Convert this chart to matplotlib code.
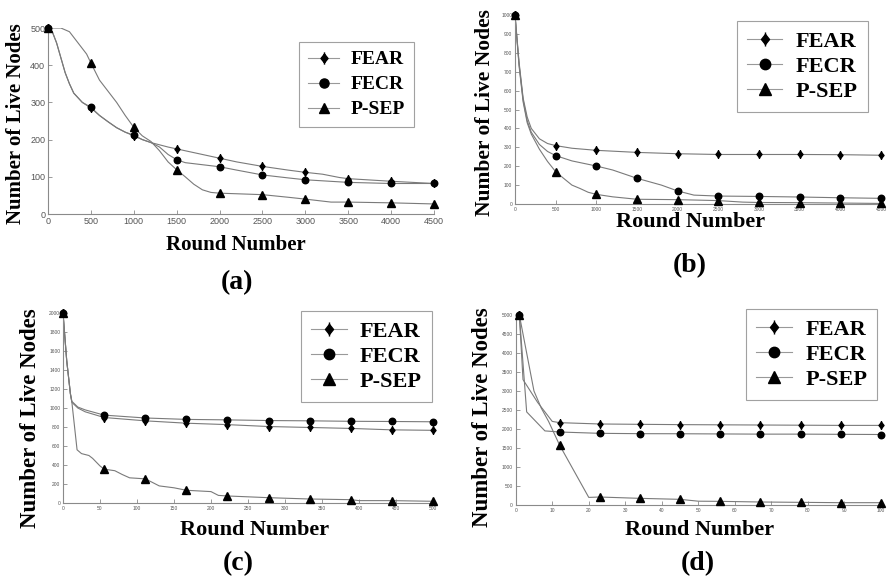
import matplotlib
matplotlib.use("Agg")
import matplotlib.pyplot as plt
from matplotlib.lines import Line2D
from matplotlib.path import Path

plt.rcParams['font.family'] = ['Liberation Serif', 'DejaVu Serif']

# ---------------- (a) 500 nodes ----------------
a_mark_x = [0, 500, 1000, 1500, 2000, 2500, 3000, 3500, 4000, 4500]
a_fear_mark = [500, 285, 210, 175, 150, 128, 112, 95, 88, 82]
a_fecr_mark = [500, 287, 212, 146, 127, 105, 92, 85, 82, 82]
a_psep_mark = [500, 406, 233, 119, 56, 52, 40, 32, 30, 27]

a_fear_x = [0, 50, 100, 150, 200, 250, 300, 400, 500, 600, 700, 800, 900, 1000, 1100, 1200,
            1300, 1400, 1500, 1700, 2000, 2200, 2500, 2800, 3000, 3200, 3400, 3500, 4000, 4500]
a_fear_y = [500, 490, 460, 420, 380, 350, 325, 300, 285, 265, 248, 232, 220, 210, 200, 192,
            186, 180, 175, 165, 150, 140, 128, 118, 112, 107, 98, 95, 88, 82]
a_fecr_x = [0, 50, 100, 150, 200, 250, 300, 400, 500, 600, 700, 800, 900, 1000, 1100, 1200,
            1300, 1400, 1500, 1600, 2000, 2200, 2500, 2800, 3000, 3500, 4000, 4500]
a_fecr_y = [500, 490, 460, 420, 380, 350, 325, 300, 287, 265, 248, 232, 220, 212, 200, 192,
            180, 160, 146, 138, 127, 118, 105, 97, 92, 85, 82, 82]
a_psep_x = [0, 150, 250, 350, 450, 500, 600, 700, 800, 900, 1000, 1100, 1200, 1300, 1400,
            1500, 1600, 1700, 1800, 1900, 2000, 2500, 2800, 3000, 3300, 3500, 4000, 4500]
a_psep_y = [500, 500, 490, 460, 430, 406, 360, 330, 300, 265, 233, 210, 195, 170, 140,
            119, 100, 80, 65, 58, 56, 52, 45, 40, 32, 32, 30, 27]

# ---------------- (b) 1000 nodes ----------------
b_mark_x = [0, 500, 1000, 1500, 2000, 2500, 3000, 3500, 4000, 4500]
b_fear_mark = [1000, 309, 284, 273, 266, 262, 262, 262, 261, 258]
b_fecr_mark = [1000, 256, 201, 136, 69, 42, 40, 37, 33, 30]
b_psep_mark = [1000, 171, 51, 25, 23, 18, 8, 7, 5, 3]

b_fear_x = [0, 50, 100, 150, 200, 300, 400, 500, 700, 1000, 1500, 2000, 2500, 3000, 3500, 4000, 4500]
b_fear_y = [1000, 750, 560, 460, 400, 345, 320, 309, 295, 284, 273, 266, 262, 262, 262, 261, 258]
b_fecr_x = [0, 50, 100, 150, 200, 300, 400, 500, 700, 1000, 1200, 1500, 1800, 2000, 2200,
            2500, 3000, 3500, 4000, 4500]
b_fecr_y = [1000, 740, 550, 440, 380, 315, 278, 256, 228, 201, 180, 136, 100, 69, 47,
            42, 40, 37, 33, 30]
b_psep_x = [0, 50, 100, 150, 200, 300, 400, 500, 600, 700, 800, 900, 1000, 1200, 1500,
            2000, 2500, 2800, 3000, 3500, 4000, 4500]
b_psep_y = [1000, 730, 540, 430, 370, 290, 225, 171, 135, 100, 82, 62, 51, 38, 25,
            23, 18, 10, 8, 7, 5, 3]

# ---------------- (c) 2000 nodes ----------------
c_mark_x = [0, 55.6, 111.1, 166.7, 222.2, 277.8, 333.3, 388.9, 444.4, 500]
c_fear_mark = [2000, 900, 865, 840, 825, 805, 795, 785, 770, 765]
c_fecr_mark = [2000, 925, 895, 880, 875, 868, 865, 860, 858, 855]
c_psep_mark = [2000, 356, 254, 134, 74, 56, 42, 35, 25, 18]

c_fear_x = [0, 5, 10, 12, 20, 30, 55.6, 111.1, 166.7, 222.2, 277.8, 333.3, 388.9, 444.4, 500]
c_fear_y = [2000, 1500, 1150, 1060, 1000, 960, 900, 865, 840, 825, 805, 795, 785, 770, 765]
c_fecr_x = [0, 5, 10, 12, 20, 30, 55.6, 111.1, 166.7, 222.2, 277.8, 333.3, 388.9, 444.4, 500]
c_fecr_y = [2000, 1500, 1150, 1070, 1010, 980, 925, 895, 880, 875, 868, 865, 860, 858, 855]
c_psep_x = [0, 5, 10, 12, 19, 25, 35, 40, 50, 55.6, 70, 80, 90, 100, 111.1, 120, 130, 150,
            166.7, 200, 210, 222.2, 277.8, 333.3, 388.9, 400, 444.4, 500]
c_psep_y = [2000, 1500, 1150, 1060, 560, 520, 500, 470, 390, 356, 340, 300, 265, 260, 254, 220,
            180, 160, 134, 120, 80, 74, 56, 42, 35, 25, 25, 18]

# ---------------- (d) 5000 nodes ----------------
d_mark_x = [1, 12, 23, 34, 45, 56, 67, 78, 89, 100]
d_fear_mark = [5000, 2167, 2132, 2123, 2115, 2110, 2105, 2100, 2095, 2095]
d_fecr_mark = [5000, 1921, 1886, 1877, 1875, 1870, 1865, 1865, 1860, 1855]
d_psep_mark = [5000, 1579, 219, 175, 149, 96, 79, 70, 61, 61]

d_fear_x = [1, 2, 6, 10, 12, 23, 34, 45, 56, 67, 78, 89, 100]
d_fear_y = [5000, 3300, 2700, 2200, 2167, 2132, 2123, 2115, 2110, 2105, 2100, 2095, 2095]
d_fecr_x = [1, 3, 8, 12, 23, 34, 45, 56, 67, 78, 89, 100]
d_fecr_y = [5000, 2450, 1950, 1921, 1886, 1877, 1875, 1870, 1865, 1865, 1860, 1855]
d_psep_x = [1, 3, 5, 7, 9, 12, 20, 23, 34, 45, 50, 56, 67, 78, 89, 100]
d_psep_y = [5000, 4000, 3000, 2550, 2200, 1579, 200, 210, 175, 149, 100, 96, 79, 70, 61, 61]

labels = ['FEAR', 'FECR', 'P-SEP']

W, H = 888, 580
fig = plt.figure(figsize=(W / 100, H / 100), dpi=100)

# FEAR marker: diamond with a vertical stroke through it
fear_marker = Path([(0, 1), (0.8, 0), (0, -1), (-0.8, 0), (0, 1), (0, 1.4), (0, -1.4)],
                   [Path.MOVETO, Path.LINETO, Path.LINETO, Path.LINETO, Path.CLOSEPOLY,
                    Path.MOVETO, Path.LINETO])
markers = [fear_marker, 'o', '^']
mark_scale = [1.15, 0.85, 1.0]
line_col = '#7a7a7a'


def add_axes(l, r, t, b):
    return fig.add_axes([l / W, 1 - b / H, (r - l) / W, (b - t) / H])


def ftext(x, y, s, **kw):
    fig.text(x / W, 1 - y / H, s, ha='center', va='center', fontweight='bold', **kw)


def draw_panel(ax, lines, marks, mark_x, xmax, xstep, ymax, ystep, tick_fs, ms,
               leg_anchor, leg_fs, leg_space):
    for (lx, ly), my, mk, sc in zip(lines, marks, markers, mark_scale):
        ax.plot(lx, ly, color=line_col, lw=0.8, zorder=2)
        ax.plot(mark_x, my, ls='none', marker=mk, color='black', ms=ms * sc,
                clip_on=False, zorder=3)
    ax.set_xlim(0, xmax)
    ax.set_ylim(0, ymax)
    ax.set_xticks(range(0, xmax + 1, xstep))
    ax.set_yticks(range(0, ymax + 1, ystep))
    for s in ['top', 'right']:
        ax.spines[s].set_visible(False)
    for s in ['left', 'bottom']:
        ax.spines[s].set_color('#8a8a8a')
        ax.spines[s].set_linewidth(0.8)
    ax.tick_params(direction='in', length=3, width=0.6, color='#8a8a8a',
                   labelsize=tick_fs, labelcolor='#555555', pad=2)
    for t in ax.get_xticklabels() + ax.get_yticklabels():
        t.set_fontfamily('Liberation Sans')
    handles = [Line2D([], [], color='#999999', lw=0.8, marker=mk, mfc='black', mec='black',
                      ms=leg_fs * 0.55 * sc) for mk, sc in zip(markers, mark_scale)]
    leg = ax.legend(handles, labels, loc='upper right', bbox_to_anchor=leg_anchor,
                    prop={'weight': 'bold', 'size': leg_fs}, frameon=True, fancybox=False,
                    edgecolor='#8a8a8a', handlelength=1.6, handletextpad=0.6,
                    labelspacing=leg_space, borderpad=0.45, borderaxespad=0)
    leg.get_frame().set_linewidth(0.8)


ax_a = add_axes(48, 434, 28, 214)
draw_panel(ax_a, [(a_fear_x, a_fear_y), (a_fecr_x, a_fecr_y), (a_psep_x, a_psep_y)],
           [a_fear_mark, a_fecr_mark, a_psep_mark], a_mark_x, 4500, 500, 500, 100,
           6.5, 5.5, (0.948, 0.925), 14, 0.38)

ax_b = add_axes(515, 881, 15, 204)
draw_panel(ax_b, [(b_fear_x, b_fear_y), (b_fecr_x, b_fecr_y), (b_psep_x, b_psep_y)],
           [b_fear_mark, b_fecr_mark, b_psep_mark], b_mark_x, 4500, 500, 1000, 100,
           3.5, 5.5, (0.964, 0.968), 16, 0.2)

ax_c = add_axes(63, 433, 313, 503)
draw_panel(ax_c, [(c_fear_x, c_fear_y), (c_fecr_x, c_fecr_y), (c_psep_x, c_psep_y)],
           [c_fear_mark, c_fecr_mark, c_psep_mark], c_mark_x, 500, 50, 2000, 200,
           3.5, 5.5, (0.997, 1.01), 16, 0.2)

ax_d = add_axes(515.7, 881, 315, 505)
draw_panel(ax_d, [(d_fear_x, d_fear_y), (d_fecr_x, d_fecr_y), (d_psep_x, d_psep_y)],
           [d_fear_mark, d_fecr_mark, d_psep_mark], d_mark_x, 100, 10, 5000, 500,
           3.5, 5.5, (0.99, 1.03), 16, 0.2)

# axis titles and panel letters
ftext(16, 124, 'Number of Live Nodes', rotation=90, fontsize=15)
ftext(485, 113, 'Number of Live Nodes', rotation=90, fontsize=15.5)
ftext(31, 418, 'Number of Live Nodes', rotation=90, fontsize=16.5)
ftext(482, 417, 'Number of Live Nodes', rotation=90, fontsize=16.5)

ftext(236, 245, 'Round Number', fontsize=15)
ftext(691, 222, 'Round Number', fontsize=16)
ftext(255, 530, 'Round Number', fontsize=16)
ftext(700, 530, 'Round Number', fontsize=16)

ftext(237, 283, '(a)', fontsize=20)
ftext(690, 266, '(b)', fontsize=20)
ftext(238, 564, '(c)', fontsize=20)
ftext(698, 564, '(d)', fontsize=20)

fig.savefig('out.png', dpi=100)
